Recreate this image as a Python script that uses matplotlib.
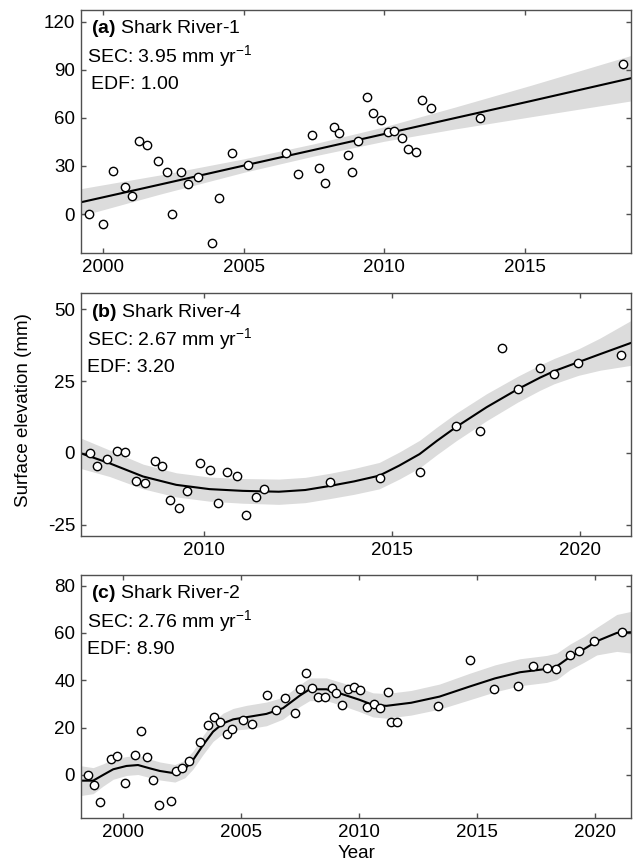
import matplotlib
matplotlib.use('Agg')
import matplotlib.pyplot as plt
import numpy as np

plt.rcParams['font.family'] = ['Liberation Sans', 'DejaVu Sans']
plt.rcParams['mathtext.fontset'] = 'custom'
plt.rcParams['mathtext.rm'] = 'Liberation Sans'
plt.rcParams['mathtext.bf'] = 'Liberation Sans:bold'
plt.rcParams['mathtext.it'] = 'Liberation Sans:italic'
plt.rcParams['axes.unicode_minus'] = False

# ---- (a) Shark River-1 ----
a_year = [1999.49, 2000.0, 2000.36, 2000.77, 2001.01, 2001.28, 2001.57, 2001.97, 2002.26,
          2002.46, 2002.78, 2003.01, 2003.39, 2003.86, 2004.14, 2004.57, 2005.16, 2006.52,
          2006.94, 2007.42, 2007.68, 2007.90, 2008.20, 2008.39, 2008.70, 2008.87, 2009.07,
          2009.38, 2009.59, 2009.87, 2010.13, 2010.35, 2010.64, 2010.84, 2011.14, 2011.36,
          2011.68, 2013.42, 2018.49]
a_elev = [0, -6, 27, 17, 11.4, 45.3, 43.2, 33.3, 26.5,
          0, 26, 18.8, 23, -18, 10.3, 37.9, 30.6, 38.3,
          24.8, 49, 28.6, 19.2, 54, 50.5, 37, 26, 45.3,
          72.8, 63.1, 58.6, 51.1, 51.5, 47.2, 40.3, 38.5, 71.4,
          66, 59.6, 93.7]
a_fit_x = [1999.2, 2002.0, 2005.0, 2007.5, 2010.0, 2012.5, 2015.2, 2018.8]
a_fit_y = [7.3, 18.3, 30.2, 40.0, 49.9, 59.8, 70.4, 84.8]
a_fit_hw = [8.5, 6.0, 4.2, 3.8, 4.5, 6.8, 9.8, 14.2]

# ---- (b) Shark River-4 ----
b_year = [2006.98, 2007.17, 2007.44, 2007.70, 2007.90, 2008.20, 2008.45, 2008.72, 2008.90,
          2009.11, 2009.34, 2009.56, 2009.91, 2010.17, 2010.37, 2010.61, 2010.88, 2011.12,
          2011.38, 2011.61, 2013.35, 2014.68, 2015.74, 2016.72, 2017.35, 2017.93, 2018.35,
          2018.94, 2019.32, 2019.96, 2021.10]
b_elev = [0, -4.5, -2.2, 0.8, 0.2, -9.7, -10.5, -2.7, -4.4,
          -16.3, -19.2, -13.1, -3.5, -6.0, -17.5, -6.8, -7.9, -21.5,
          -15.2, -12.4, -10.0, -8.8, -6.6, 9.3, 7.6, 36.7, 22.4,
          29.6, 27.6, 31.4, 34.1]
b_fit_x = [2006.73, 2007.5, 2008.39, 2009.27, 2010.16, 2011.04, 2012.0, 2012.7, 2013.35,
           2014.0, 2014.67, 2015.2, 2015.74, 2016.2, 2016.72, 2017.52, 2018.35, 2018.94,
           2019.32, 2019.96, 2020.54, 2021.36]
b_fit_y = [-0.1, -3.6, -8.2, -11.1, -12.6, -13.2, -13.5, -12.9, -11.5,
           -9.9, -7.9, -4.4, -0.4, 4.2, 9.1, 15.9, 22.2, 26.2,
           28.5, 31.6, 34.4, 38.3]
b_fit_hw = [5.3, 4.6, 4.3, 4.2, 4.2, 4.3, 4.4, 4.4, 4.4,
            4.5, 4.6, 4.7, 4.8, 4.8, 4.8, 4.7, 4.5, 4.4,
            4.4, 4.6, 5.6, 7.8]

# ---- (c) Shark River-2 ----
c_year = [1998.52, 1998.78, 1999.03, 1999.48, 1999.74, 2000.09, 2000.50, 2000.74, 2001.00,
          2001.28, 2001.53, 2002.03, 2002.24, 2002.48, 2002.78, 2003.26, 2003.60, 2003.84,
          2004.12, 2004.41, 2004.62, 2005.07, 2005.45, 2006.09, 2006.47, 2006.86, 2007.26,
          2007.50, 2007.76, 2008.00, 2008.26, 2008.53, 2008.83, 2009.02, 2009.28, 2009.53,
          2009.79, 2010.05, 2010.34, 2010.62, 2010.86, 2011.21, 2011.34, 2011.60, 2013.34,
          2014.69, 2015.72, 2016.74, 2017.38, 2017.94, 2018.35, 2018.93, 2019.31, 2019.95,
          2021.12]
c_elev = [0, -4.1, -11.3, 6.8, 8.0, -3.5, 8.5, 18.6, 7.7,
          -2.1, -12.7, -10.8, 1.7, 3.1, 5.8, 14.1, 21.1, 24.6,
          22.4, 17.3, 19.4, 23.2, 21.7, 33.8, 27.5, 32.4, 26.3,
          36.2, 43.1, 36.6, 32.8, 33.1, 36.6, 34.6, 29.7, 36.5,
          37.2, 35.9, 28.6, 29.9, 28.3, 35.1, 22.4, 22.4, 29.2,
          48.7, 36.3, 37.7, 45.9, 45.1, 44.9, 50.7, 52.2, 56.5,
          60.5]
c_fit_x = [1998.2, 1998.73, 1999.15, 1999.58, 2000.14, 2000.63, 2001.13, 2001.55, 2002.19,
           2002.61, 2002.96, 2003.39, 2003.81, 2004.23, 2004.66, 2005.22, 2006.07, 2006.77,
           2007.48, 2007.9, 2008.61, 2009.17, 2010.0, 2010.58, 2011.15, 2012.2, 2013.4,
           2014.69, 2015.75, 2016.81, 2017.94, 2018.37, 2018.93, 2019.5, 2020.06, 2020.91,
           2021.51]
c_fit_y = [-2.4, -2.4, 0.0, 2.4, 3.8, 4.2, 2.8, 1.7, 0.7,
           2.5, 6.3, 12.7, 18.3, 21.8, 23.5, 24.4, 25.8, 28.2,
           33.5, 36.2, 36.2, 34.5, 31.8, 29.6, 29.2, 30.5, 33.1,
           37.4, 40.8, 43.4, 44.8, 45.9, 49.9, 53.0, 56.5, 60.0,
           60.3]
c_fit_hw = [6.3, 5.5, 4.7, 4.2, 4.0, 4.0, 3.9, 3.8, 3.7,
            3.7, 3.8, 4.0, 4.1, 4.3, 4.6, 5.0, 5.0, 4.6,
            4.6, 4.8, 4.8, 4.8, 5.0, 5.1, 5.2, 5.2, 5.3,
            5.6, 5.7, 5.7, 5.7, 5.6, 5.4, 5.5, 5.8, 7.8,
            8.8]

panels = [
    dict(year=a_year, elev=a_elev, fx=a_fit_x, fy=a_fit_y, hw=a_fit_hw,
         title='Shark River-1', tag='(a)', sec='3.95', edf='1.00',
         xlim=(1999.2, 2018.78), ylim=(-24.5, 127.3),
         xticks=[2000, 2005, 2010, 2015], yticks=[0, 30, 60, 90, 120],
         rect=[0.127, 0.7075, 0.8666, 0.281], edf_x=0.019),
    dict(year=b_year, elev=b_elev, fx=b_fit_x, fy=b_fit_y, hw=b_fit_hw,
         title='Shark River-4', tag='(b)', sec='2.67', edf='3.20',
         xlim=(2006.73, 2021.36), ylim=(-28.9, 55.6),
         xticks=[2010, 2015, 2020], yticks=[-25, 0, 25, 50],
         rect=[0.127, 0.3811, 0.8666, 0.2803], edf_x=0.012),
    dict(year=c_year, elev=c_elev, fx=c_fit_x, fy=c_fit_y, hw=c_fit_hw,
         title='Shark River-2', tag='(c)', sec='2.76', edf='8.90',
         xlim=(1998.2, 2021.51), ylim=(-18.3, 84.5),
         xticks=[2000, 2005, 2010, 2015, 2020], yticks=[0, 20, 40, 60, 80],
         rect=[0.127, 0.0551, 0.8666, 0.281], edf_x=0.012),
]

fig = plt.figure(figsize=(6.35, 8.66), dpi=100)

for p in panels:
    ax = fig.add_axes(p['rect'])
    fx = np.array(p['fx'])
    fy = np.array(p['fy'])
    hw = np.array(p['hw'])
    ax.fill_between(fx, fy - hw, fy + hw, color='#dcdcdc', lw=0, zorder=1)
    ax.plot(fx, fy, color='black', lw=1.5, zorder=2)
    ax.plot(p['year'], p['elev'], 'o', ms=6, mfc='white', mec='black', mew=1.0, zorder=3)

    ax.set_xlim(p['xlim'])
    ax.set_ylim(p['ylim'])
    ax.set_xticks(p['xticks'])
    ax.set_yticks(p['yticks'])
    ax.tick_params(direction='in', top=True, right=True, length=3.5, width=1.0,
                   color='#505050', labelsize=13.5, pad=4)
    for s in ax.spines.values():
        s.set_color('#505050')
        s.set_linewidth(1.0)

    ax.text(0.019, 0.922, r'$\mathbf{' + p['tag'] + '}$ ' + p['title'],
            transform=ax.transAxes, fontsize=14, va='center', ha='left')
    ax.text(0.012, 0.812, 'SEC: ' + p['sec'] + r' mm yr$^{-1}$',
            transform=ax.transAxes, fontsize=14, va='center', ha='left')
    ax.text(p['edf_x'], 0.695, 'EDF: ' + p['edf'],
            transform=ax.transAxes, fontsize=14, va='center', ha='left')

fig.text(0.037, 0.527, 'Surface elevation (mm)', rotation=90, fontsize=13.5,
         ha='center', va='center')
fig.text(0.561, 0.014, 'Year', fontsize=13.5, ha='center', va='center')

fig.savefig('out.png', dpi=100)
